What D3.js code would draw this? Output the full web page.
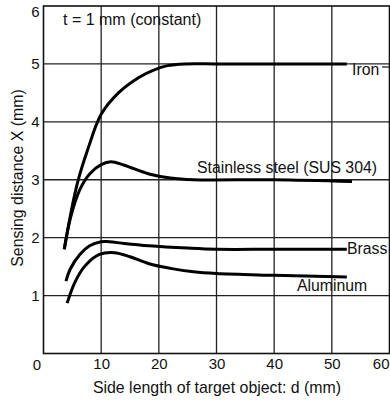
<!DOCTYPE html>
<html lang="en">
<head>
<meta charset="utf-8">
<title>Sensing distance vs target size</title>
<script src="https://d3js.org/d3.v7.min.js"></script>
<style>
body { margin: 0; background: #fff; }
text { font-family: "Liberation Sans", Arial, sans-serif; fill: #111; }
</style>
</head>
<body>
<svg id="chart" width="390" height="400"></svg>
<script>
// values: [d (mm), X (mm)]
var iron = [[3.6,1.8],[4.7,2.4],[5.9,2.95],[7.6,3.5],[10,4.13],[13,4.5],[16.6,4.77],[19,4.89],[21.5,4.97],[24.5,5.0],[30,5.0],[40,5.0],[52.6,5.0]];
var stainless = [[3.6,1.8],[4.7,2.35],[6.3,2.83],[8,3.1],[10,3.26],[11.7,3.31],[14,3.25],[18.3,3.1],[22,3.03],[26,3.0],[40,3.0],[53.5,2.97]];
var brass = [[3.9,1.25],[4.6,1.45],[6.3,1.71],[8,1.86],[10,1.93],[11.4,1.93],[14,1.9],[18.3,1.86],[25,1.82],[30,1.8],[40,1.8],[52.6,1.8]];
var aluminum = [[4.1,0.87],[5.4,1.22],[7.1,1.5],[9.7,1.71],[12.3,1.74],[15,1.67],[18.3,1.55],[22,1.47],[26,1.41],[30,1.38],[40,1.35],[52.6,1.32]];

var xTicks = [10, 20, 30, 40, 50, 60];
var yTicks = [1, 2, 3, 4, 5, 6];

var seriesLabels = [
    {name: "Iron", data: iron, dx: 352, dy: 75},
    {name: "Stainless steel (SUS 304)", data: stainless, dx: 197, dy: 173},
    {name: "Brass", data: brass, dx: 347, dy: 254},
    {name: "Aluminum", data: aluminum, dx: 297, dy: 291}
];

var svg = d3.select("#chart");

var x = d3.scaleLinear().domain([0, 60]).range([43.5, 389.5]);
var y = d3.scaleLinear().domain([0, 6]).range([353.5, 6]);

// grid
svg.append("g")
    .selectAll("line")
    .data(xTicks.slice(0, 5))
    .enter().append("line")
    .attr("x1", function(d) { return x(d); })
    .attr("x2", function(d) { return x(d); })
    .attr("y1", y(0))
    .attr("y2", y(6))
    .attr("stroke", "#222")
    .attr("stroke-width", 1.3);

svg.append("g")
    .selectAll("line")
    .data(yTicks.slice(0, 5))
    .enter().append("line")
    .attr("x1", x(0))
    .attr("x2", x(60))
    .attr("y1", function(d) { return y(d); })
    .attr("y2", function(d) { return y(d); })
    .attr("stroke", "#222")
    .attr("stroke-width", 1.3);

// frame
svg.append("rect")
    .attr("x", x(0))
    .attr("y", y(6))
    .attr("width", x(60) - x(0))
    .attr("height", y(0) - y(6))
    .attr("fill", "none")
    .attr("stroke", "#111")
    .attr("stroke-width", 1.6);

// axes (labels only, the grid draws the lines)
var xAxis = svg.append("g")
    .attr("transform", "translate(0," + y(0) + ")")
    .call(d3.axisBottom(x).tickValues(xTicks).tickFormat(d3.format("d")).tickSize(0).tickPadding(5));
var yAxis = svg.append("g")
    .attr("transform", "translate(" + x(0) + ",0)")
    .call(d3.axisLeft(y).tickValues(yTicks).tickFormat(d3.format("d")).tickSize(0).tickPadding(4));
[xAxis, yAxis].forEach(function(a) {
    a.select(".domain").remove();
    a.selectAll("text")
        .attr("font-family", "Liberation Sans, Arial, sans-serif")
        .attr("font-size", 15)
        .attr("fill", "#111");
});
// edge labels pulled inside the picture
yAxis.selectAll(".tick")
    .filter(function(d) { return d === 6; })
    .select("text")
    .attr("y", 6);
xAxis.selectAll(".tick")
    .filter(function(d) { return d === 60; })
    .select("text")
    .attr("text-anchor", "end")
    .attr("x", -0.5);

svg.append("text")
    .attr("x", 37)
    .attr("y", y(0) + 16)
    .attr("text-anchor", "middle")
    .attr("font-size", 15)
    .text("0");

// curves
var line = d3.line()
    .x(function(d) { return x(d[0]); })
    .y(function(d) { return y(d[1]); })
    .curve(d3.curveCatmullRom.alpha(0.5));

svg.append("g")
    .selectAll("path")
    .data(seriesLabels)
    .enter().append("path")
    .attr("d", function(d) { return line(d.data); })
    .attr("fill", "none")
    .attr("stroke", "#000")
    .attr("stroke-width", 3)
    .attr("stroke-linecap", "butt");

// series labels
svg.append("g")
    .selectAll("text")
    .data(seriesLabels)
    .enter().append("text")
    .attr("x", function(d) { return d.dx; })
    .attr("y", function(d) { return d.dy; })
    .attr("font-size", 15.8)
    .text(function(d) { return d.name; });

svg.append("line")
    .attr("x1", 382).attr("x2", 390)
    .attr("y1", 67).attr("y2", 67)
    .attr("stroke", "#111").attr("stroke-width", 1.2);

svg.append("text")
    .attr("x", 63)
    .attr("y", 25)
    .attr("font-size", 16)
    .text("t = 1 mm (constant)");

svg.append("text")
    .attr("x", 217)
    .attr("y", 393)
    .attr("text-anchor", "middle")
    .attr("font-size", 15.9)
    .text("Side length of target object: d (mm)");

svg.append("text")
    .attr("transform", "translate(23,178) rotate(-90)")
    .attr("text-anchor", "middle")
    .attr("font-size", 15.9)
    .text("Sensing distance X (mm)");
</script>
</body>
</html>
